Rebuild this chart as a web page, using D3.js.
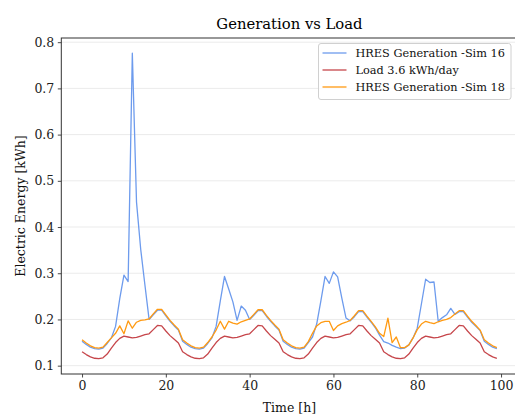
<!DOCTYPE html>
<html>
<head>
<meta charset="utf-8">
<script src="https://cdn.jsdelivr.net/npm/d3@7"></script>
<style>
  body { margin: 0; background: #fff; }
  svg { display: block; font-family: "DejaVu Serif", serif; }
</style>
</head>
<body>
<div class="chart"></div>
<script>
// hourly values, 0..99 h
var hours = d3.range(0, 100);

var loadValues = [
  0.130, 0.124, 0.119, 0.116, 0.115, 0.117, 0.125, 0.138, 0.150, 0.159, 0.164, 0.162,
  0.160, 0.161, 0.164, 0.167, 0.169, 0.178, 0.187, 0.186, 0.175, 0.165, 0.157, 0.149,
  0.130, 0.124, 0.119, 0.116, 0.115, 0.117, 0.125, 0.138, 0.150, 0.159, 0.164, 0.162,
  0.160, 0.161, 0.164, 0.167, 0.169, 0.178, 0.187, 0.186, 0.175, 0.165, 0.157, 0.149,
  0.130, 0.124, 0.119, 0.116, 0.115, 0.117, 0.125, 0.138, 0.150, 0.159, 0.164, 0.162,
  0.160, 0.161, 0.164, 0.167, 0.169, 0.178, 0.187, 0.186, 0.175, 0.165, 0.157, 0.149,
  0.130, 0.124, 0.119, 0.116, 0.115, 0.117, 0.125, 0.138, 0.150, 0.159, 0.164, 0.162,
  0.160, 0.161, 0.164, 0.167, 0.169, 0.178, 0.187, 0.186, 0.175, 0.165, 0.157, 0.149,
  0.130, 0.124, 0.119, 0.116
];

var sim16Values = [
  0.153, 0.146, 0.140, 0.137, 0.136, 0.138, 0.148, 0.160, 0.185, 0.245, 0.296, 0.282,
  0.776, 0.454, 0.352, 0.275, 0.200, 0.210, 0.220, 0.220, 0.208, 0.196, 0.186, 0.177,
  0.153, 0.146, 0.140, 0.137, 0.136, 0.138, 0.148, 0.160, 0.185, 0.240, 0.293, 0.266,
  0.238, 0.198, 0.229, 0.220, 0.200, 0.209, 0.219, 0.219, 0.207, 0.196, 0.186, 0.177,
  0.153, 0.146, 0.140, 0.137, 0.136, 0.138, 0.150, 0.162, 0.190, 0.240, 0.293, 0.278,
  0.303, 0.292, 0.246, 0.203, 0.197, 0.206, 0.217, 0.217, 0.205, 0.194, 0.182, 0.166,
  0.152, 0.149, 0.144, 0.140, 0.137, 0.138, 0.145, 0.160, 0.181, 0.234, 0.287, 0.280,
  0.281, 0.196, 0.204, 0.210, 0.224, 0.211, 0.217, 0.217, 0.205, 0.194, 0.185, 0.176,
  0.153, 0.146, 0.140, 0.137
];

var sim18Values = [
  0.156, 0.149, 0.143, 0.139, 0.138, 0.140, 0.150, 0.160, 0.170, 0.186, 0.169, 0.197,
  0.181, 0.194, 0.198, 0.199, 0.201, 0.212, 0.222, 0.222, 0.210, 0.198, 0.188, 0.179,
  0.156, 0.149, 0.143, 0.139, 0.138, 0.140, 0.150, 0.162, 0.177, 0.196, 0.179, 0.196,
  0.192, 0.190, 0.195, 0.198, 0.201, 0.211, 0.221, 0.221, 0.209, 0.198, 0.188, 0.179,
  0.156, 0.149, 0.143, 0.139, 0.138, 0.140, 0.152, 0.170, 0.186, 0.193, 0.196, 0.196,
  0.176, 0.186, 0.191, 0.194, 0.198, 0.208, 0.219, 0.219, 0.207, 0.196, 0.184, 0.170,
  0.163, 0.203, 0.150, 0.162, 0.139, 0.139, 0.145, 0.160, 0.178, 0.190, 0.196, 0.193,
  0.191, 0.195, 0.198, 0.200, 0.204, 0.212, 0.219, 0.219, 0.207, 0.196, 0.187, 0.177,
  0.156, 0.149, 0.143, 0.139
];

var seriesNames = ["HRES Generation -Sim 16", "Load 3.6 kWh/day", "HRES Generation -Sim 18"];
var seriesColors = ["#6d9bed", "#c6464b", "#ff9a12"];
var xTicks = [0, 20, 40, 60, 80, 100];
var yTicks = [0.1, 0.2, 0.3, 0.4, 0.5, 0.6, 0.7, 0.8];

var svgWidth = 515;
var svgHeight = 414;
var margin = { top: 38, left: 61.3, bottom: 40 };
var width = 456.3;               // right spine falls just outside the window
var height = svgHeight - margin.top - margin.bottom;

var svg = d3.select(".chart")
  .append("svg")
  .attr("width", svgWidth)
  .attr("height", svgHeight);

var chartGroup = svg.append("g")
  .attr("transform", `translate(${margin.left}, ${margin.top})`);

// matplotlib style 5% padding
var allValues = sim16Values.concat(loadValues, sim18Values);
var yMin = d3.min(allValues), yMax = d3.max(allValues);
var yPad = (yMax - yMin) * 0.05;
var xPad = (d3.max(hours) - d3.min(hours)) * 0.05;

var xLinearScale = d3.scaleLinear()
  .domain([d3.min(hours) - xPad, d3.max(hours) + xPad])
  .range([0, width]);

var yLinearScale = d3.scaleLinear()
  .domain([yMin - yPad, yMax + yPad])
  .range([height, 0]);

// grid
chartGroup.append("g")
  .selectAll("line")
  .data(yTicks)
  .enter()
  .append("line")
  .attr("x1", 0)
  .attr("x2", width)
  .attr("y1", d => yLinearScale(d))
  .attr("y2", d => yLinearScale(d))
  .attr("stroke", "#ebebeb")
  .attr("stroke-width", 1);

// lines
var line = d3.line()
  .x((d, i) => xLinearScale(hours[i]))
  .y(d => yLinearScale(d));

[sim16Values, loadValues, sim18Values].forEach(function(vals, i) {
  chartGroup.append("path")
    .datum(vals)
    .attr("d", line)
    .attr("fill", "none")
    .attr("stroke", seriesColors[i])
    .attr("stroke-width", 1.3)
    .attr("stroke-linejoin", "round");
});

// axes
var bottomAxis = d3.axisBottom(xLinearScale)
  .tickValues(xTicks)
  .tickSize(3.5)
  .tickPadding(3.5)
  .tickSizeOuter(0);
var leftAxis = d3.axisLeft(yLinearScale)
  .tickValues(yTicks)
  .tickFormat(d3.format(".1f"))
  .tickSize(3.5)
  .tickPadding(3.5)
  .tickSizeOuter(0);

var xAxis = chartGroup.append("g")
  .attr("transform", `translate(0, ${height})`)
  .call(bottomAxis);
var yAxis = chartGroup.append("g")
  .call(leftAxis);

[xAxis, yAxis].forEach(function(ax) {
  ax.select(".domain").remove();
  ax.selectAll("line").attr("stroke", "#333").attr("stroke-width", 0.9);
  ax.selectAll("text")
    .attr("fill", "#222")
    .style("font-family", "DejaVu Serif")
    .style("font-size", "12.5px");
});

// spines
chartGroup.append("rect")
  .attr("x", 0)
  .attr("y", 0)
  .attr("width", width)
  .attr("height", height)
  .attr("fill", "none")
  .attr("stroke", "#333")
  .attr("stroke-width", 1);

// title and labels
svg.append("text")
  .attr("x", margin.left + width / 2)
  .attr("y", 29)
  .attr("text-anchor", "middle")
  .attr("fill", "#000")
  .style("font-size", "14.8px")
  .text("Generation vs Load");

svg.append("text")
  .attr("x", margin.left + width / 2)
  .attr("y", 412)
  .attr("text-anchor", "middle")
  .attr("fill", "#111")
  .style("font-size", "12.5px")
  .text("Time [h]");

svg.append("text")
  .attr("transform", `translate(25, ${margin.top + height / 2}) rotate(-90)`)
  .attr("text-anchor", "middle")
  .attr("fill", "#111")
  .style("font-size", "12.5px")
  .text("Electric Energy [kWh]");

// legend
var legend = svg.append("g")
  .attr("transform", "translate(318.5, 43.5)");

legend.append("rect")
  .attr("width", 192.5)
  .attr("height", 56)
  .attr("rx", 2.5)
  .attr("fill", "#fff")
  .attr("fill-opacity", 0.8)
  .attr("stroke", "#d0d0d0")
  .attr("stroke-width", 1);

seriesNames.forEach(function(name, i) {
  var yPos = 9.5 + i * 17;
  legend.append("line")
    .attr("x1", 4)
    .attr("x2", 28)
    .attr("y1", yPos)
    .attr("y2", yPos)
    .attr("stroke", seriesColors[i])
    .attr("stroke-width", 1.3);
  legend.append("text")
    .attr("x", 37)
    .attr("y", yPos)
    .attr("dy", "0.35em")
    .attr("fill", "#111")
    .style("font-size", "11.3px")
    .text(name);
});
</script>
</body>
</html>
